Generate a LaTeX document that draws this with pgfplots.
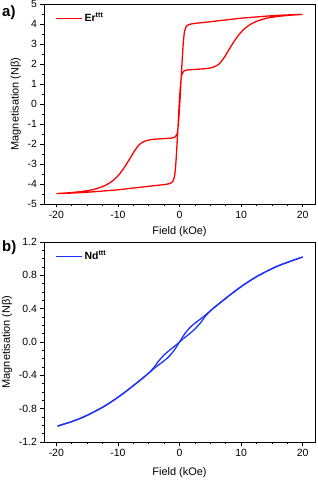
\documentclass[border=0pt]{standalone}
\usepackage{pgfplots}
\pgfplotsset{compat=1.18}
\usepackage{fontspec}
\setmainfont{Liberation Sans}
\definecolor{myred}{RGB}{255,0,0}
\definecolor{myblue}{RGB}{30,50,255}
\begin{document}
\begin{tikzpicture}
\pgfplotsset{
 myax/.style={
  scale only axis, width=271bp, height=200bp,
  xmin=-22, xmax=22,
  xtick={-20,-10,0,10,20},
  minor x tick num=3,
  tick pos=left, tick align=outside,
  major tick length=3.5bp, minor tick length=2bp,
  axis line style={line width=0.9pt},
  every tick/.style={black, line width=0.7pt},
  tick label style={font=\fontsize{10.5}{12}\selectfont},
  label style={font=\fontsize{11}{13}\selectfont},
  xlabel={Field (kOe)},
  ylabel={Magnetisation (Nβ)},
  /pgf/number format/assume math mode=true,
  legend style={draw=none, fill=none, at={(0.03,0.975)}, anchor=north west,
    font=\fontsize{10.5}{12}\selectfont\bfseries},
  legend cell align=left,
  legend image code/.code={\draw[##1, line width=1.3pt] (0bp,0bp) -- (26bp,0bp);},
 }
}
\begin{axis}[myax, at={(0,0)}, anchor=north west,
  xlabel style={yshift=-1bp},
  ymin=-5, ymax=5, ytick={-5,-4,...,5}, minor y tick num=1]
\addplot[myred, line width=1.3pt, smooth, tension=0.35] coordinates {
(20,4.48) (18,4.46) (16,4.43) (14,4.39) (12,4.34) (10,4.29) (8,4.22) (6,4.15) (4,4.08)
(2.5,4.03) (1.6,3.98) (1.1,3.88) (0.8,3.6) (0.6,3.0) (0.4,2.0) (0.2,0.9) (0.05,0.0)
(-0.15,-0.9) (-0.35,-1.45) (-0.7,-1.64) (-1.2,-1.7) (-2,-1.72) (-3,-1.74) (-4,-1.76)
(-5,-1.8) (-5.8,-1.88) (-6.5,-2.02) (-7.2,-2.3) (-8,-2.7) (-8.8,-3.1) (-9.6,-3.45)
(-10.5,-3.75) (-11.5,-3.98) (-12.5,-4.13) (-14,-4.28) (-16,-4.38) (-18,-4.44) (-20,-4.48)
(-18,-4.46) (-16,-4.43) (-14,-4.39) (-12,-4.34) (-10,-4.29) (-8,-4.22) (-6,-4.15) (-4,-4.08)
(-2.5,-4.03) (-1.6,-3.98) (-1.1,-3.88) (-0.8,-3.6) (-0.6,-3.0) (-0.4,-2.0) (-0.2,-0.9) (-0.05,0.0)
(0.15,0.9) (0.35,1.45) (0.7,1.64) (1.2,1.7) (2,1.72) (3,1.74) (4,1.76)
(5,1.8) (5.8,1.88) (6.5,2.02) (7.2,2.3) (8,2.7) (8.8,3.1) (9.6,3.45)
(10.5,3.75) (11.5,3.98) (12.5,4.13) (14,4.28) (16,4.38) (18,4.44) (20,4.48)
};
\addlegendentry{Er\textsuperscript{ttt}}
\end{axis}
\begin{axis}[myax, at={(0,-238bp)}, anchor=north west,
  xlabel style={yshift=-4bp},
  ymin=-1.2, ymax=1.2, ytick={-1.2,-0.8,-0.4,0,0.4,0.8,1.2}, minor y tick num=3,
  yticklabel style={/pgf/number format/.cd, fixed, fixed zerofill, precision=1}]
\addplot[myblue, line width=1.3pt, smooth, tension=0.6] coordinates {
(20,1.02) (19,0.995) (18,0.968) (17,0.942) (16,0.913) (15,0.88) (14,0.843) (13,0.804)
(12,0.762) (11,0.714) (10,0.664) (9,0.61) (8,0.553) (7,0.494) (6,0.435) (5,0.373)
(4.5,0.342) (4.1,0.316) (3.6,0.287) (3,0.254) (2.5,0.226) (2,0.194) (1.5,0.157) (1,0.113) (0.5,0.06)
(0,0) (-0.5,-0.032) (-1,-0.062) (-1.5,-0.092) (-2,-0.122) (-2.5,-0.155) (-3,-0.195) (-3.6,-0.248)
(-4.1,-0.3) (-4.5,-0.335) (-5,-0.373) (-6,-0.435) (-7,-0.494) (-8,-0.553) (-9,-0.61)
(-10,-0.664) (-11,-0.714) (-12,-0.762) (-13,-0.804) (-14,-0.843) (-15,-0.88) (-16,-0.913)
(-17,-0.942) (-18,-0.968) (-19,-0.99) (-19.8,-1.01)
};
\addplot[myblue, line width=1.3pt, smooth, tension=0.6] coordinates {
(-19.8,-1.01) (-19,-0.99) (-18,-0.968) (-17,-0.942) (-16,-0.913) (-15,-0.88) (-14,-0.843) (-13,-0.804)
(-12,-0.762) (-11,-0.714) (-10,-0.664) (-9,-0.61) (-8,-0.553) (-7,-0.494) (-6,-0.435) (-5,-0.373)
(-4.5,-0.342) (-4.1,-0.316) (-3.6,-0.287) (-3,-0.254) (-2.5,-0.226) (-2,-0.194) (-1.5,-0.157) (-1,-0.113) (-0.5,-0.06)
(0,0) (0.5,0.032) (1,0.062) (1.5,0.092) (2,0.122) (2.5,0.155) (3,0.195) (3.6,0.248)
(4.1,0.3) (4.5,0.335) (5,0.373) (6,0.435) (7,0.494) (8,0.553) (9,0.61)
(10,0.664) (11,0.714) (12,0.762) (13,0.804) (14,0.843) (15,0.88) (16,0.913)
(17,0.942) (18,0.968) (19,0.995) (20,1.02)
};
\legend{Nd\textsuperscript{ttt}}
\end{axis}
\node[anchor=north west, inner sep=0pt, font=\bfseries\fontsize{15}{15}\selectfont] at (-42bp,-1bp) {a)};
\node[anchor=north west, inner sep=0pt, font=\bfseries\fontsize{15}{15}\selectfont] at (-42bp,-236bp) {b)};
\pgfresetboundingbox
\path[use as bounding box] (-44bp,4bp) rectangle (274bp,-477bp);
\end{tikzpicture}
\end{document}
